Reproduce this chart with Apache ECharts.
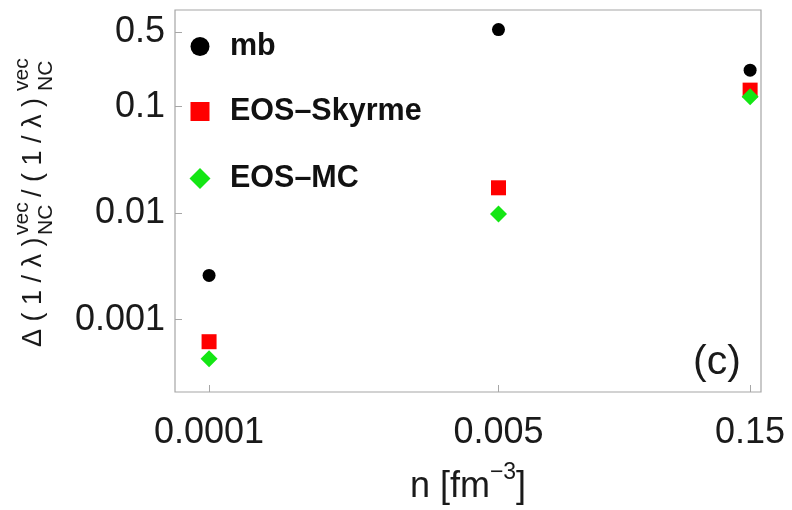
<!DOCTYPE html>
<html><head><meta charset="utf-8">
<script src="https://cdn.jsdelivr.net/npm/echarts@6/dist/echarts.min.js"></script>
<style>html,body{margin:0;padding:0;background:#fff}#c{width:792px;height:510px}</style>
</head><body><div id="c"></div>
<script>
// ---- data ----
const densities = [0.0001, 0.005, 0.15];
const seriesNames = ['mb', 'EOS\u2013Skyrme', 'EOS\u2013MC'];
const mbValues = [0.0026, 0.53, 0.22];
const skyrmeValues = [0.00062, 0.0173, 0.143];
const mcValues = [0.00043, 0.0098, 0.124];
const xTickValues = [0.0001, 0.005, 0.15];
const xTickLabels = ['0.0001', '0.005', '0.15'];
const yTickValues = [0.001, 0.01, 0.1, 0.5];
const yTickLabels = ['0.001', '0.01', '0.1', '0.5'];

// ---- helpers ----
const lg = Math.log10;
const toPts = vals => densities.map((d, i) => [lg(d), lg(vals[i])]);
const labelFor = (vals, labels) => v => {
  let best = 0;
  vals.forEach((t, i) => { if (Math.abs(lg(t) - v) < Math.abs(lg(vals[best]) - v)) best = i; });
  return labels[best];
};
const FONT = '"Liberation Sans", Arial, sans-serif';
const GRAY = '#a6a6a6';

const chart = echarts.init(document.getElementById('c'), null, {renderer: 'canvas'});

const symbols = ['circle', 'rect', 'diamond'];
const sizes = [13, 15, 17];
const legendSizes = [19, 19, 21];
const colors = ['#000000', '#ff0000', '#14e614'];
const legendCenters = [47, 112, 179];

chart.setOption({
  animation: false,
  backgroundColor: '#fff',
  grid: {left: 175, right: 31, top: 10, bottom: 109, show: true, borderColor: GRAY, borderWidth: 1.2},
  xAxis: {
    type: 'value', min: -4.2, max: -0.76,
    splitLine: {show: false},
    axisLine: {show: false},
    axisTick: {inside: true, length: 7, lineStyle: {color: GRAY, width: 1}, customValues: xTickValues.map(lg)},
    axisLabel: {customValues: xTickValues.map(lg), formatter: labelFor(xTickValues, xTickLabels),
      fontSize: 36, fontFamily: FONT, color: '#1a1a1a', margin: 23},
    name: '{a|n [fm}{s|\u22123}{a|]}',
    nameLocation: 'middle', nameGap: 69,
    nameTextStyle: {rich: {
      a: {fontSize: 36, fontFamily: FONT, color: '#1a1a1a', lineHeight: 44, verticalAlign: 'bottom'},
      s: {fontSize: 23, fontFamily: FONT, color: '#1a1a1a', lineHeight: 22, verticalAlign: 'top'}
    }}
  },
  yAxis: {
    type: 'value', min: -3.68, max: -0.092,
    splitLine: {show: false},
    axisLine: {show: false},
    axisTick: {inside: true, length: 7, lineStyle: {color: GRAY, width: 1}, customValues: yTickValues.map(lg)},
    axisLabel: {customValues: yTickValues.map(lg), formatter: labelFor(yTickValues, yTickLabels),
      fontSize: 36, fontFamily: FONT, color: '#1a1a1a', margin: 10}
  },
  legend: seriesNames.map((n, i) => ({
    data: [n], orient: 'vertical', selectedMode: false, padding: 0,
    left: 200 - legendSizes[i] / 2, top: legendCenters[i] - 16,
    itemWidth: legendSizes[i], itemHeight: legendSizes[i],
    itemStyle: {opacity: 1},
    textStyle: {fontSize: 30.5, fontWeight: 'bold', fontFamily: FONT, color: '#111',
      padding: [0, 0, 0, 25 - legendSizes[i] / 2]}
  })),
  series: [
    {name: seriesNames[0], type: 'scatter', data: toPts(mbValues), symbol: symbols[0], symbolSize: sizes[0], itemStyle: {color: colors[0], opacity: 1}, z: 3},
    {name: seriesNames[1], type: 'scatter', data: toPts(skyrmeValues), symbol: symbols[1], symbolSize: sizes[1], itemStyle: {color: colors[1], opacity: 1}, z: 2},
    {name: seriesNames[2], type: 'scatter', data: toPts(mcValues), symbol: symbols[2], symbolSize: sizes[2], itemStyle: {color: colors[2], opacity: 1}, z: 4}
  ],
  graphic: [
    {type: 'text', left: 693, top: 342, style: {text: '(c)', font: '41px ' + FONT, fill: '#1a1a1a'}},
    {type: 'group', x: 43, y: 347, rotation: Math.PI / 2, children: [
      {type: 'text', x: 0, y: -9, style: {text: '\u0394 ( 1 / \u03bb )', font: '27px ' + FONT, fill: '#1a1a1a', textVerticalAlign: 'middle'}},
      {type: 'text', x: 112, y: -21, style: {text: 'vec', font: '21px ' + FONT, fill: '#1a1a1a', textVerticalAlign: 'middle'}},
      {type: 'text', x: 112, y: 3, style: {text: 'NC', font: '21px ' + FONT, fill: '#1a1a1a', textVerticalAlign: 'middle'}},
      {type: 'text', x: 150, y: -9, style: {text: '/ ( 1 / \u03bb )', font: '27px ' + FONT, fill: '#1a1a1a', textVerticalAlign: 'middle'}},
      {type: 'text', x: 256, y: -21, style: {text: 'vec', font: '21px ' + FONT, fill: '#1a1a1a', textVerticalAlign: 'middle'}},
      {type: 'text', x: 256, y: 3, style: {text: 'NC', font: '21px ' + FONT, fill: '#1a1a1a', textVerticalAlign: 'middle'}}
    ]}
  ]
});
</script>
</body></html>
